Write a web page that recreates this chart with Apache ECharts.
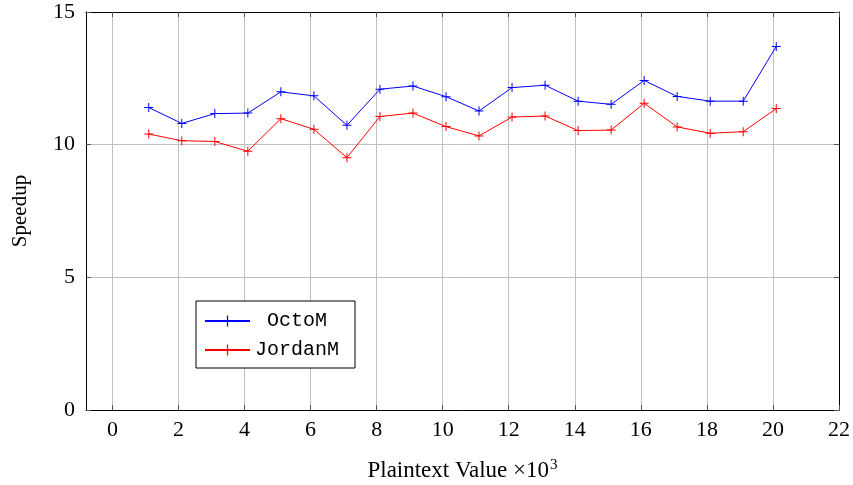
<!DOCTYPE html>
<html>
<head>
<meta charset="utf-8">
<script src="https://cdn.jsdelivr.net/npm/echarts@6/dist/echarts.min.js"></script>
<style>
  html, body { margin: 0; padding: 0; background: #fff; }
  #chart { width: 853px; height: 485px; }
</style>
</head>
<body>
<div id="chart"></div>
<script>
// plaintext values (x10^3)
var xValues = [1.1, 2.1, 3.1, 4.1, 5.1, 6.1, 7.1, 8.1, 9.1, 10.1, 11.1, 12.1, 13.1, 14.1, 15.1, 16.1, 17.1, 18.1, 19.1, 20.1]
var octoM = [11.40, 10.80, 11.17, 11.19, 11.99, 11.84, 10.73, 12.09, 12.21, 11.81, 11.27, 12.15, 12.24, 11.64, 11.52, 12.42, 11.82, 11.64, 11.64, 13.70]
var jordanM = [10.40, 10.15, 10.12, 9.75, 10.98, 10.58, 9.51, 11.06, 11.19, 10.68, 10.33, 11.04, 11.08, 10.53, 10.55, 11.56, 10.67, 10.43, 10.49, 11.36]
var xTicks = [0, 2, 4, 6, 8, 10, 12, 14, 16, 18, 20, 22]
var seriesNames = [' OctoM', 'JordanM']

var serif = 'Liberation Serif'
var mono = 'Liberation Mono'
var plus = 'path://M4,0H5V4H9V5H5V9H4V5H0V4H4Z'

function pairs (ys) {
  return xValues.map(function (x, i) { return [x, ys[i]] })
}

var chart = echarts.init(document.getElementById('chart'))

var xBase = {
  type: 'value',
  min: -0.8,
  max: 22,
  axisLine: { onZero: false, lineStyle: { color: '#000', width: 1 } },
  axisTick: { inside: true, length: 5, customValues: xTicks, lineStyle: { color: '#555' } },
  splitLine: { show: false }
}
var yBase = {
  type: 'value',
  min: 0,
  max: 15,
  interval: 5,
  axisLine: { show: true, onZero: false, lineStyle: { color: '#000', width: 1 } },
  axisTick: { show: true, inside: true, length: 5, lineStyle: { color: '#555' } },
  splitLine: { show: false }
}

var option = {
  animation: false,
  grid: { left: 86, right: 14, top: 12, bottom: 75, containLabel: false, outerBoundsMode: 'none' },
  legend: {
    orient: 'vertical',
    left: 196,
    top: 301,
    data: seriesNames,
    backgroundColor: '#fff',
    borderColor: '#000',
    borderWidth: 1,
    padding: [10, 16, 8, 8],
    itemWidth: 45,
    itemHeight: 14,
    itemGap: 9,
    textStyle: { fontFamily: mono, fontSize: 20, color: '#000' }
  },
  xAxis: [
    Object.assign({}, xBase, {
      position: 'bottom',
      name: 'Plaintext Value ×10{sup|3}',
      nameLocation: 'middle',
      nameGap: 48,
      nameTextStyle: {
        fontFamily: serif, fontSize: 23, color: '#000',
        rich: { sup: { fontFamily: serif, fontSize: 15, verticalAlign: 'top', padding: [0, 0, 10, 1] } }
      },
      axisLabel: { margin: 9, fontFamily: serif, fontSize: 22, color: '#000', customValues: xTicks },
      splitLine: { show: true, lineStyle: { color: '#bfbfbf', width: 1 } }
    }),
    Object.assign({}, xBase, { position: 'top', axisLabel: { show: false } })
  ],
  yAxis: [
    Object.assign({}, yBase, {
      position: 'left',
      name: 'Speedup',
      nameLocation: 'middle',
      nameGap: 55,
      nameTextStyle: { fontFamily: serif, fontSize: 21, color: '#000' },
      axisLabel: { margin: 11, fontFamily: serif, fontSize: 22, color: '#000' },
      splitLine: { show: true, lineStyle: { color: '#bfbfbf', width: 1 } }
    }),
    Object.assign({}, yBase, { position: 'right', axisLabel: { show: false } })
  ],
  series: [
    {
      name: seriesNames[0],
      type: 'line',
      data: pairs(octoM),
      symbol: plus,
      symbolSize: 9,
      lineStyle: { color: '#0000ff', width: 1 },
      itemStyle: { color: '#0000ff' }
    },
    {
      name: seriesNames[1],
      type: 'line',
      data: pairs(jordanM),
      symbol: plus,
      symbolSize: 9,
      lineStyle: { color: '#ff0000', width: 1 },
      itemStyle: { color: '#ff0000' }
    }
  ]
}

chart.setOption(option)
</script>
</body>
</html>
